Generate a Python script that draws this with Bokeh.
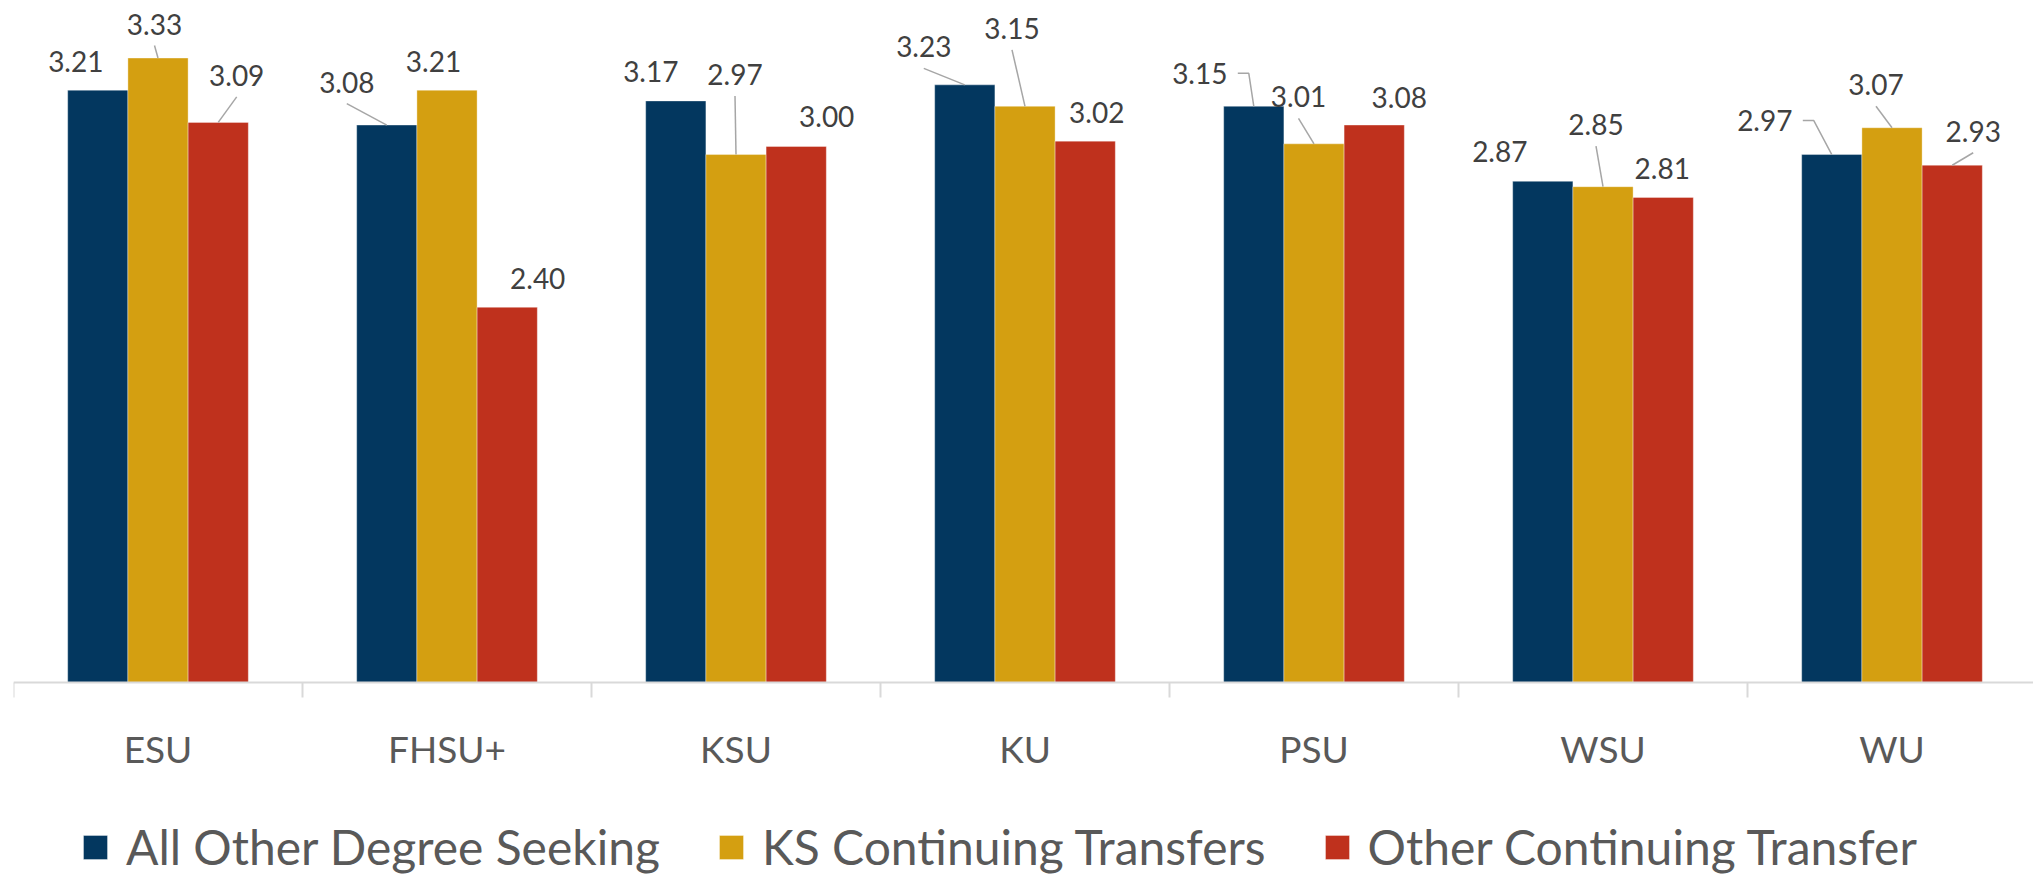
from bokeh.plotting import figure
from bokeh.models import Range1d, FixedTicker, ColumnDataSource, LabelSet, Legend, LegendItem
from bokeh.core.properties import value
from bokeh.embed import file_html
from bokeh.resources import INLINE

# ---------------- data ----------------
categories = ["ESU", "FHSU+", "KSU", "KU", "PSU", "WSU", "WU"]
series_names = ["All Other Degree Seeking", "KS Continuing Transfers", "Other Continuing Transfer"]
all_other_degree = [3.21, 3.08, 3.17, 3.23, 3.15, 2.87, 2.97]
ks_continuing = [3.33, 3.21, 2.97, 3.15, 3.01, 2.85, 3.07]
other_continuing = [3.09, 2.40, 3.00, 3.02, 3.08, 2.81, 2.93]
series_values = [all_other_degree, ks_continuing, other_continuing]

# ---------------- style ----------------
colors = ["#03375F", "#D49F11", "#BF311D"]
FONT = "Lato"
# data-label placement in screen px: horizontal shift and lift above the bar top
label_dx = [[-22, -40, -25, -41, -54, -43, -67],
            [-3.5, -13.5, -1, -13, -15.5, -7, -16],
            [18.5, 30.5, 30.5, 11.5, 25, -1, 21]]
label_up = [[29, 43, 29, 38, 33, 29.5, 34],
            [34, 29, 80, 78, 47, 62, 43],
            [47, 29, 30, 29, 28, 29, 34]]

TOP, PLOT_H, BELOW_PX = 12, 670, 193   # px: top border, bar area, area under the axis
FRAME_W = 2020
X_END = 6.9896         # axis runs slightly past the right edge in the reference
Y0, Y1 = 1.0, 3.5      # value axis starts at 1.0
BW = 1 / 4.8           # three bars, gap width 180%
ux = FRAME_W / X_END
uy = PLOT_H / (Y1 - Y0)
Y_BOTTOM = Y0 - BELOW_PX / uy   # frame extends below the axis to hold labels and legend

p = figure(frame_width=FRAME_W, frame_height=PLOT_H + BELOW_PX,
           x_range=Range1d(0, X_END), y_range=Range1d(Y_BOTTOM, Y1),
           output_backend="svg", toolbar_location=None, y_axis_location=None,
           min_border_left=13, min_border_right=0, min_border_top=TOP, min_border_bottom=0)
p.outline_line_color = None
p.xgrid.visible = False
p.ygrid.visible = False

centers = [i + 0.5 for i in range(len(categories))]
bounds = [float(i) for i in range(len(categories) + 1)]
ax = p.xaxis[0]
ax.fixed_location = Y0
ax.ticker = FixedTicker(ticks=centers, minor_ticks=bounds)
ax.major_label_overrides = {c: n for c, n in zip(centers, categories)}
ax.major_tick_line_color = None
ax.major_tick_out = 0
ax.major_tick_in = 0
ax.minor_tick_out = 15
ax.minor_tick_in = 0
ax.minor_tick_line_color = "#D9D9D9"
ax.minor_tick_line_width = 2
ax.axis_line_color = "#D9D9D9"
ax.axis_line_width = 2
ax.major_label_standoff = 28
ax.major_label_text_font = FONT
ax.major_label_text_font_size = "37px"
ax.major_label_text_color = "#595959"

renderers = []
lead_xs, lead_ys = [], []
for s, vals in enumerate(series_values):
    xs = [i + 0.5 + (s - 1) * BW for i in range(len(categories))]
    src = ColumnDataSource(dict(x=xs, top=vals,
                                txt=[f"{v:.2f}" for v in vals],
                                dx=label_dx[s], up=label_up[s]))
    r = p.vbar(x="x", top="top", bottom=Y0, width=BW, source=src,
               fill_color=colors[s], line_color="white", line_alpha=0.35, line_width=1)
    renderers.append(r)
    p.add_layout(LabelSet(x="x", y="top", text="txt", x_offset="dx", y_offset="up",
                          source=src, text_align="center", text_baseline="middle",
                          text_font=value(FONT), text_font_size="28px", text_color="#404040"))
    for x, v, dx, up in zip(xs, vals, label_dx[s], label_up[s]):
        if up <= 32:
            continue
        cx = x + dx / ux
        cy = v + up / uy
        if dx < -50:
            lead_xs.append([cx + 38 / ux, cx + 49 / ux, x])
            lead_ys.append([cy, cy, v])
        else:
            lead_xs.append([cx, x])
            lead_ys.append([cy - 21.5 / uy, v])

p.multi_line(lead_xs, lead_ys, line_color="#A6A6A6", line_width=1.5)

legend = Legend(items=[LegendItem(label=n, renderers=[r]) for n, r in zip(series_names, renderers)],
                orientation="horizontal", location=(67, 0),
                glyph_width=30, glyph_height=30, label_standoff=16, spacing=56,
                padding=0, margin=0, border_line_color=None, background_fill_alpha=0,
                label_text_font=FONT, label_text_font_size="48px", label_text_color="#595959")
p.add_layout(legend)

open("out.html", "w").write(file_html(p, INLINE))
